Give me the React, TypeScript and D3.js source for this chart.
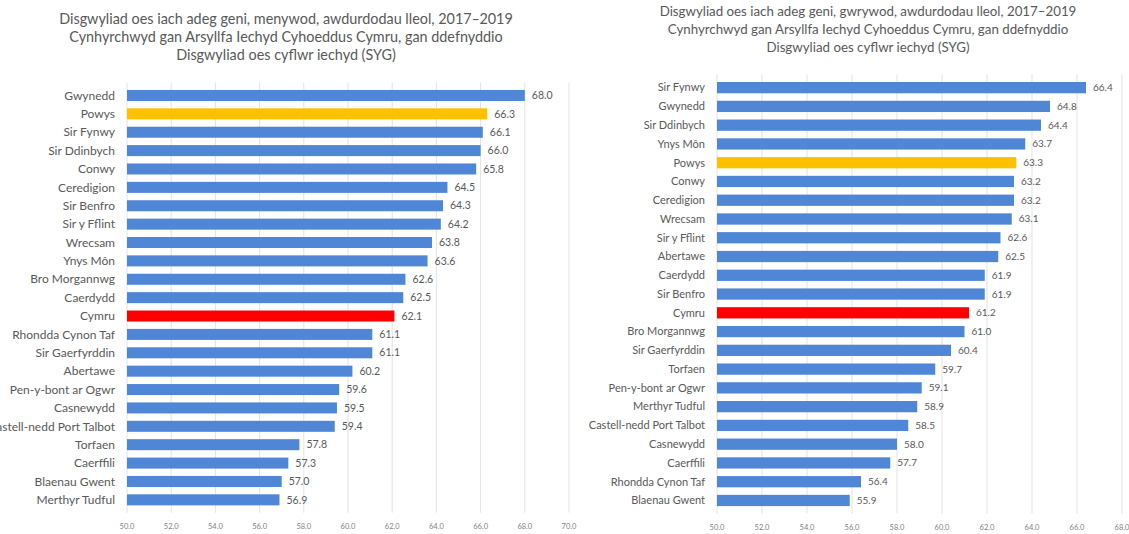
import * as d3 from 'd3';

// Menywod (women) - left chart
const femaleAreas = [
  'Gwynedd', 'Powys', 'Sir Fynwy', 'Sir Ddinbych', 'Conwy', 'Ceredigion', 'Sir Benfro',
  'Sir y Fflint', 'Wrecsam', 'Ynys Môn', 'Bro Morgannwg', 'Caerdydd', 'Cymru',
  'Rhondda Cynon Taf', 'Sir Gaerfyrddin', 'Abertawe', 'Pen-y-bont ar Ogwr', 'Casnewydd',
  'Castell-nedd Port Talbot', 'Torfaen', 'Caerffili', 'Blaenau Gwent', 'Merthyr Tudful',
];
const femaleValues = [
  68.0, 66.3, 66.1, 66.0, 65.8, 64.5, 64.3, 64.2, 63.8, 63.6, 62.6, 62.5, 62.1,
  61.1, 61.1, 60.2, 59.6, 59.5, 59.4, 57.8, 57.3, 57.0, 56.9,
];

// Gwrywod (men) - right chart
const maleAreas = [
  'Sir Fynwy', 'Gwynedd', 'Sir Ddinbych', 'Ynys Môn', 'Powys', 'Conwy', 'Ceredigion',
  'Wrecsam', 'Sir y Fflint', 'Abertawe', 'Caerdydd', 'Sir Benfro', 'Cymru',
  'Bro Morgannwg', 'Sir Gaerfyrddin', 'Torfaen', 'Pen-y-bont ar Ogwr', 'Merthyr Tudful',
  'Castell-nedd Port Talbot', 'Casnewydd', 'Caerffili', 'Rhondda Cynon Taf', 'Blaenau Gwent',
];
const maleValues = [
  66.4, 64.8, 64.4, 63.7, 63.3, 63.2, 63.2, 63.1, 62.6, 62.5, 61.9, 61.9, 61.2,
  61.0, 60.4, 59.7, 59.1, 58.9, 58.5, 58.0, 57.7, 56.4, 55.9,
];

const femaleTitle = [
  'Disgwyliad oes iach adeg geni, menywod, awdurdodau lleol, 2017‒2019',
  'Cynhyrchwyd gan Arsyllfa Iechyd Cyhoeddus Cymru, gan ddefnyddio',
  'Disgwyliad oes cyflwr iechyd (SYG)',
];
const maleTitle = [
  'Disgwyliad oes iach adeg geni, gwrywod, awdurdodau lleol, 2017–2019',
  'Cynhyrchwyd gan Arsyllfa Iechyd Cyhoeddus Cymru, gan ddefnyddio',
  'Disgwyliad oes cyflwr iechyd (SYG)',
];

const femaleTicks = d3.range(50, 70.1, 2);
const maleTicks = d3.range(50, 68.1, 2);

const FONT = 'Lato, "Liberation Sans", sans-serif';
const TEXT = '#595959';
const BLUE = '#4f87d6';

const barColor = (name: string) =>
  name === 'Powys' ? '#ffc000' : name === 'Cymru' ? '#ff0000' : BLUE;

type PanelProps = {
  areas: string[];
  values: number[];
  ticks: number[];
  title: string[];
  x0: number;
  x1: number;
  xMax: number;
  top: number;
  bottom: number;
  titleX: number;
  titleY: number;
  titleSize: number;
  labelSize: number;
  valueSize: number;
};

const Panel = (p: PanelProps) => {
  const x = d3.scaleLinear().domain([50, p.xMax]).range([p.x0, p.x1]);
  const y = d3.scaleBand().domain(p.areas).range([p.top, p.bottom]).padding(0.4);
  return (
    <g fontFamily={FONT}>
      {p.title.map((t, i) => (
        <text key={i} x={p.titleX} y={p.titleY + i * 18} textAnchor="middle"
          fontSize={p.titleSize} fill={TEXT}>{t}</text>
      ))}
      {p.ticks.map((t) => (
        <g key={t}>
          <line x1={x(t)} x2={x(t)} y1={p.top} y2={p.bottom} stroke="#e3e3e3" />
          <text x={x(t)} y={p.bottom + 16} textAnchor="middle" fontSize={7.5} fill="#7f7f7f">
            {t.toFixed(1)}
          </text>
        </g>
      ))}
      {p.areas.map((a, i) => {
        const cy = y(a)! + y.bandwidth() / 2;
        return (
          <g key={a}>
            <text x={p.x0 - 12} y={cy} dy="0.35em" textAnchor="end"
              fontSize={p.labelSize} fill={TEXT}>{a}</text>
            <rect x={x(50)} y={y(a)!} width={x(p.values[i]) - x(50)}
              height={y.bandwidth()} fill={barColor(a)} />
            <text x={x(p.values[i]) + 7} y={cy} dy="0.35em"
              fontSize={p.valueSize} fill={TEXT}>{p.values[i].toFixed(1)}</text>
          </g>
        );
      })}
    </g>
  );
};

export default function App() {
  return (
    <svg width={1129} height={534}
      style={{ position: 'absolute', left: 0, top: 0, background: '#fff' }}>
      <Panel areas={femaleAreas} values={femaleValues} ticks={femaleTicks} title={femaleTitle}
        x0={127} x1={569} xMax={70} top={82.6} bottom={512.7}
        titleX={286} titleY={24} titleSize={14.4} labelSize={12} valueSize={10.5} />
      <Panel areas={maleAreas} values={maleValues} ticks={maleTicks} title={maleTitle}
        x0={717} x1={1122} xMax={68} top={74.5} bottom={513.6}
        titleX={868} titleY={16} titleSize={13.3} labelSize={11} valueSize={10} />
    </svg>
  );
}
